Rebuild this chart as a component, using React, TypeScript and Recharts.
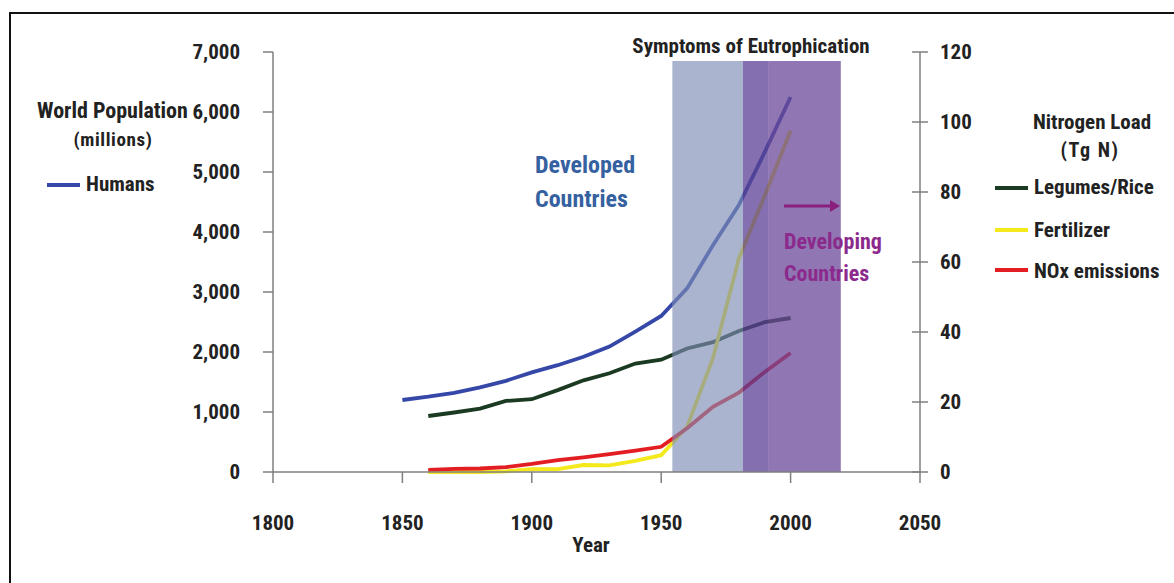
import React from "react";
import { LineChart, Line, XAxis, YAxis, ReferenceArea } from "recharts";

const years = [1850, 1860, 1870, 1880, 1890, 1900, 1910, 1920, 1930, 1940, 1950, 1960, 1970, 1980, 1990, 2000];
const humans = [1200, 1255, 1320, 1410, 1520, 1660, 1780, 1920, 2090, 2340, 2600, 3060, 3780, 4450, 5330, 6250];
const legumes = [null, 16.0, 17.0, 18.1, 20.3, 20.8, 23.4, 26.2, 28.2, 31.0, 32.1, 35.3, 37.1, 40.3, 42.8, 44.0];
const fertilizer = [null, 0, 0, 0, 0.2, 0.8, 0.8, 2.0, 1.9, 3.2, 4.8, 12.9, 32.5, 61, 79, 97.5];
const nox = [null, 0.6, 0.9, 1.0, 1.4, 2.3, 3.4, 4.2, 5.1, 6.1, 7.2, 12.5, 18.6, 22.7, 28.6, 34.0];

const xTicks = [1800, 1850, 1900, 1950, 2000, 2050];
const leftTicks = [0, 1000, 2000, 3000, 4000, 5000, 6000, 7000];
const rightTicks = [0, 20, 40, 60, 80, 100, 120];

// shaded periods (years)
const developedStart = 1954.3;
const overlapStart = 1981.6;
const overlapEnd = 1991.3;
const developingEnd = 2019.4;
const shadeTop = 6850;

const data = years.map((y, i) => ({
  year: y,
  humans: humans[i],
  legumes: legumes[i],
  fertilizer: fertilizer[i],
  nox: nox[i],
}));

const FONT = "'Liberation Sans Narrow', 'Arial Narrow', 'Roboto Condensed', 'DejaVu Sans Condensed', sans-serif";
const AXIS = "#7f7f7f";
const TXT = "#222";

const C_HUMANS = "#3548a8";
const C_LEGUMES = "#1b3a22";
const C_FERT = "#f3e91c";
const C_NOX = "#e31e22";

const fmt = (v: number) => v.toLocaleString("en-US");

const LeftTick = (props: any) => {
  const { x, y, payload } = props;
  return (
    <g>
      <line x1={x - 10} x2={x} y1={y} y2={y} stroke={AXIS} strokeWidth={1.5} />
      <text x={x - 33} y={y} dy="0.35em" textAnchor="end" fontFamily={FONT} fontWeight="bold" fontSize={21} fill={TXT}>
        {fmt(payload.value)}
      </text>
    </g>
  );
};

const RightTick = (props: any) => {
  const { x, y, payload } = props;
  return (
    <g>
      <line x1={x - 8} x2={x + 8} y1={y} y2={y} stroke={AXIS} strokeWidth={1.5} />
      <text x={x + 20} y={y} dy="0.35em" textAnchor="start" fontFamily={FONT} fontWeight="bold" fontSize={21} fill={TXT}>
        {payload.value}
      </text>
    </g>
  );
};

const BottomTick = (props: any) => {
  const { x, y, payload } = props;
  return (
    <g>
      <line x1={x} x2={x} y1={y} y2={y + 11} stroke={AXIS} strokeWidth={1.5} />
      <text x={x} y={y + 51} dy="0.35em" textAnchor="middle" fontFamily={FONT} fontWeight="bold" fontSize={21} fill={TXT}>
        {payload.value}
      </text>
    </g>
  );
};

const abs = (left: number, top: number, extra: React.CSSProperties = {}): React.CSSProperties => ({
  position: "absolute",
  left,
  top,
  transform: "translateY(-50%)",
  whiteSpace: "nowrap",
  fontFamily: FONT,
  fontWeight: "bold",
  color: TXT,
  lineHeight: 1,
  ...extra,
});

const LegendLine = ({ left, top, color }: { left: number; top: number; color: string }) => (
  <div style={{ position: "absolute", left, top: top - 2, width: 33, height: 4, background: color }} />
);

export default function App() {
  return (
    <div style={{ position: "relative", width: 1174, height: 583, overflow: "hidden", background: "#fff" }}>
      <style>{"html,body{margin:0;padding:0;overflow:hidden;background:#fff}"}</style>
      <div
        style={{
          position: "absolute",
          left: 9,
          top: 12,
          width: 1174,
          height: 600,
          borderTop: "2px solid #111",
          borderLeft: "2px solid #111",
        }}
      />
      <div style={{ position: "absolute", left: 0, top: 0 }}>
        <LineChart width={1174} height={583} data={data} margin={{ top: 52, right: 0, bottom: 0, left: 0 }}>
          <XAxis
            dataKey="year"
            type="number"
            domain={[1800, 2050]}
            ticks={xTicks}
            interval={0}
            height={111}
            tickSize={0}
            tickMargin={0}
            tickLine={false}
            axisLine={{ stroke: AXIS, strokeWidth: 1.5 }}
            tick={<BottomTick />}
          />
          <YAxis
            yAxisId="left"
            orientation="left"
            domain={[0, 7000]}
            ticks={leftTicks}
            interval={0}
            width={273}
            tickSize={0}
            tickMargin={0}
            tickLine={false}
            axisLine={{ stroke: AXIS, strokeWidth: 1.5 }}
            tick={<LeftTick />}
          />
          <YAxis
            yAxisId="right"
            orientation="right"
            domain={[0, 120]}
            ticks={rightTicks}
            interval={0}
            width={254}
            tickSize={0}
            tickMargin={0}
            tickLine={false}
            axisLine={{ stroke: AXIS, strokeWidth: 1.5 }}
            tick={<RightTick />}
          />
          <Line yAxisId="left" dataKey="humans" type="linear" stroke={C_HUMANS} strokeWidth={3.8} dot={false} isAnimationActive={false} />
          <Line yAxisId="right" dataKey="legumes" type="linear" stroke={C_LEGUMES} strokeWidth={3.8} dot={false} isAnimationActive={false} />
          <Line yAxisId="right" dataKey="fertilizer" type="linear" stroke={C_FERT} strokeWidth={3.8} dot={false} isAnimationActive={false} />
          <Line yAxisId="right" dataKey="nox" type="linear" stroke={C_NOX} strokeWidth={3.8} dot={false} isAnimationActive={false} />
          <ReferenceArea
            yAxisId="left"
            x1={developedStart}
            x2={overlapStart}
            y1={0}
            y2={shadeTop}
            fill="#7e8cb5"
            fillOpacity={0.65}
            stroke="none"
            zIndex={450}
            ifOverflow="visible"
          />
          <ReferenceArea
            yAxisId="left"
            x1={overlapStart}
            x2={overlapEnd}
            y1={0}
            y2={shadeTop}
            fill="#5b4096"
            fillOpacity={0.75}
            stroke="none"
            zIndex={450}
            ifOverflow="visible"
          />
          <ReferenceArea
            yAxisId="left"
            x1={overlapEnd}
            x2={developingEnd}
            y1={0}
            y2={shadeTop}
            fill="#6b4898"
            fillOpacity={0.75}
            stroke="none"
            zIndex={450}
            ifOverflow="visible"
          />
        </LineChart>
      </div>

      {/* Titles and annotations */}
      <div style={abs(751, 46, { fontSize: 21, transform: "translate(-50%,-50%)" })}>Symptoms of Eutrophication</div>
      <div style={abs(535, 165, { fontSize: 24, color: "#3561a0" })}>Developed</div>
      <div style={abs(535, 199, { fontSize: 24, color: "#3561a0" })}>Countries</div>
      <div style={abs(784, 242, { fontSize: 22, color: "#8b2a8c" })}>Developing</div>
      <div style={abs(784, 274, { fontSize: 22, color: "#8b2a8c" })}>Countries</div>
      <svg style={{ position: "absolute", left: 780, top: 196 }} width={64} height={20}>
        <line x1={4} y1={10} x2={51} y2={10} stroke="#8a1f7e" strokeWidth={3} />
        <polygon points="50,4 60,10 50,16" fill="#8a1f7e" />
      </svg>

      {/* Left legend */}
      <div style={abs(37, 111, { fontSize: 22 })}>World Population</div>
      <div style={abs(113, 139, { fontSize: 19, letterSpacing: 0.6, transform: "translate(-50%,-50%)" })}>(millions)</div>
      <LegendLine left={47} top={185} color={C_HUMANS} />
      <div style={abs(86, 184, { fontSize: 21 })}>Humans</div>

      {/* Right legend */}
      <div style={abs(1092, 122, { fontSize: 21, transform: "translate(-50%,-50%)" })}>Nitrogen Load</div>
      <div style={abs(1090, 150, { fontSize: 20, letterSpacing: 1.5, transform: "translate(-50%,-50%)" })}>(Tg N)</div>
      <LegendLine left={995} top={188} color={C_LEGUMES} />
      <div style={abs(1034, 187, { fontSize: 21 })}>Legumes/Rice</div>
      <LegendLine left={995} top={230} color={C_FERT} />
      <div style={abs(1034, 230, { fontSize: 21 })}>Fertilizer</div>
      <LegendLine left={995} top={270} color={C_NOX} />
      <div style={abs(1034, 271, { fontSize: 21 })}>NOx emissions</div>

      {/* Axis title */}
      <div style={abs(591, 545, { fontSize: 21, transform: "translate(-50%,-50%)" })}>Year</div>
    </div>
  );
}
